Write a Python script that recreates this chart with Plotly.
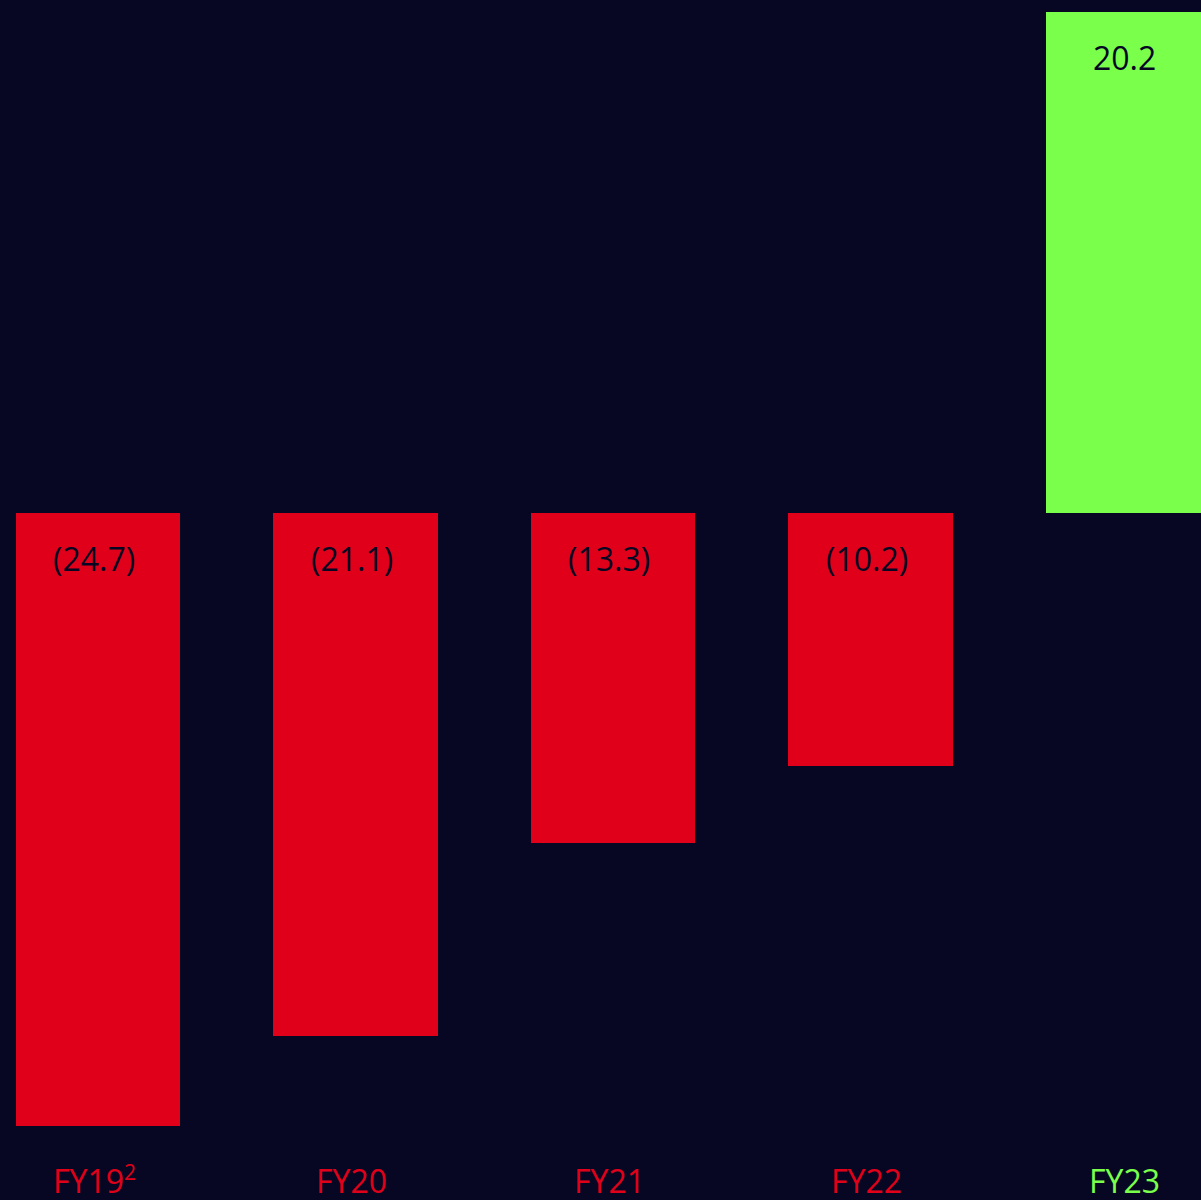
import plotly.graph_objects as go

categories = ["FY19", "FY20", "FY21", "FY22", "FY23"]
tick_labels = ["FY19<sup><span style='font-size:21px'>2</span></sup>", "FY20", "FY21", "FY22", "FY23"]
values = [-24.7, -21.1, -13.3, -10.2, 20.2]
value_labels = ["(24.7)", "(21.1)", "(13.3)", "(10.2)", "20.2"]

RED = "#E10019"
GREEN = "#7AFF4B"
BG = "#070723"
colors = [GREEN if v > 0 else RED for v in values]

xs = list(range(len(categories)))

fig = go.Figure(go.Bar(
    x=xs, y=values, marker=dict(color=colors, line=dict(width=0)),
    width=0.637, hoverinfo="skip"))

FONT = "Open Sans"
s = 24.8  # px per unit
zero_px = 513
plot_h = 1140
y_top = zero_px / s
y_bot = -(plot_h - zero_px) / s

annotations = []
for i, (v, lab) in enumerate(zip(values, value_labels)):
    y = v if v > 0 else 0
    annotations.append(dict(x=i, y=y, xref="x", yref="y", text=lab, showarrow=False,
                            yanchor="middle", yshift=-45, xshift=-4,
                            font=dict(family=FONT, size=32, color=BG)))
for i, (t, c) in enumerate(zip(tick_labels, colors)):
    annotations.append(dict(x=i, y=0, xref="x", yref="paper", text=t, showarrow=False,
                            yanchor="middle", yshift=-40, xshift=-4,
                            font=dict(family=FONT, size=32, color=c)))

left = -98 / 257.5
right = 4 + (1201 - 1128) / 257.5

fig.update_layout(
    width=1201, height=1200,
    margin=dict(l=0, r=0, t=0, b=60, pad=0),
    paper_bgcolor=BG, plot_bgcolor=BG,
    showlegend=False,
    xaxis=dict(range=[left, right], visible=False, fixedrange=True),
    yaxis=dict(range=[y_bot, y_top], visible=False, fixedrange=True),
    annotations=annotations,
    bargap=0,
)

fig.write_html("out.html")
